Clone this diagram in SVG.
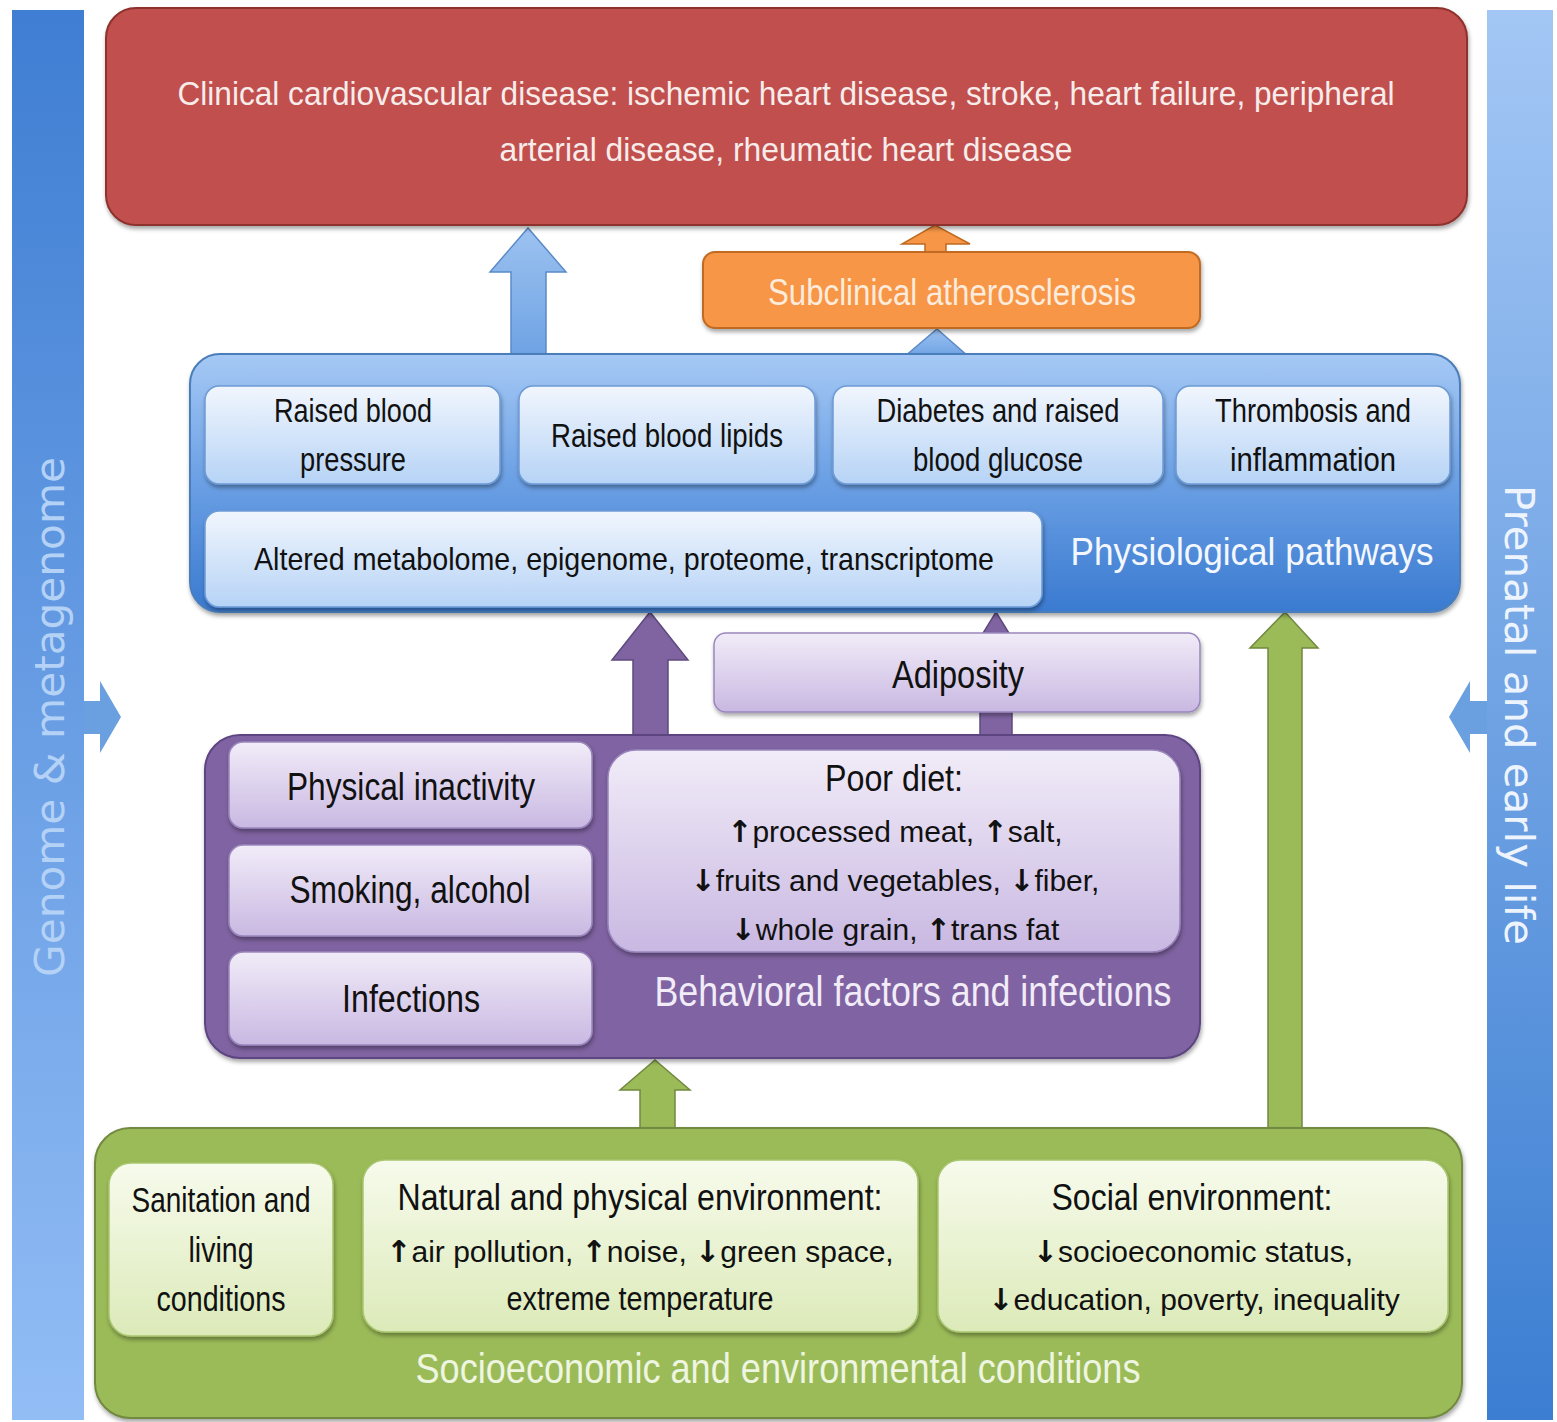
<svg xmlns="http://www.w3.org/2000/svg" width="1557" height="1422" viewBox="0 0 1557 1422">
<defs>
<linearGradient id="gLeft" x1="0" y1="0" x2="0" y2="1"><stop offset="0" stop-color="#3f7ed3"/><stop offset="1" stop-color="#92bdf5"/></linearGradient>
<linearGradient id="gRight" x1="0" y1="0" x2="0" y2="1"><stop offset="0" stop-color="#a3c7f5"/><stop offset="1" stop-color="#3c7ed2"/></linearGradient>
<linearGradient id="gPhys" x1="0" y1="0" x2="0" y2="1"><stop offset="0" stop-color="#a6c9f5"/><stop offset="0.45" stop-color="#6fa3e6"/><stop offset="1" stop-color="#3a7ad0"/></linearGradient>
<linearGradient id="gBlueSub" x1="0" y1="0" x2="0" y2="1"><stop offset="0" stop-color="#f1f6fd"/><stop offset="1" stop-color="#b6d3f6"/></linearGradient>
<linearGradient id="gPurSub" x1="0" y1="0" x2="0" y2="1"><stop offset="0" stop-color="#f1ecf8"/><stop offset="1" stop-color="#c9b8e2"/></linearGradient>
<linearGradient id="gGrnSub" x1="0" y1="0" x2="0" y2="1"><stop offset="0" stop-color="#f7fbec"/><stop offset="1" stop-color="#dceab9"/></linearGradient>
<linearGradient id="gBlueArrow" x1="0" y1="0" x2="0" y2="1"><stop offset="0" stop-color="#9cc2f0"/><stop offset="1" stop-color="#6ea2e4"/></linearGradient>
<filter id="sh" x="-10%" y="-10%" width="120%" height="130%"><feDropShadow dx="1" dy="3" stdDeviation="2" flood-color="#000" flood-opacity="0.35"/></filter>
<style>
.t{font-family:"Liberation Sans",Arial,sans-serif;text-anchor:middle;fill:#111;}
.t.w{fill:#f7ecea;}
.t.wo{fill:#fdebdc;}
.t.wb{fill:#f4f8fe;}
.t.wp{fill:#f1ecf8;}
.t.wg{fill:#eef5e0;}
.ar{font-family:"DejaVu Sans",sans-serif;font-weight:bold;}
.side{font-family:"DejaVu Sans",Verdana,sans-serif;text-anchor:middle;font-size:40px;}
.bsub{fill:url(#gBlueSub);stroke:#6d9bd6;stroke-width:1.5;filter:url(#sh);}
.psub{fill:url(#gPurSub);stroke:#9a86bd;stroke-width:1.5;filter:url(#sh);}
.gsub{fill:url(#gGrnSub);stroke:#a9c66f;stroke-width:1.5;filter:url(#sh);}
.blueArrow{fill:url(#gBlueArrow);stroke:#5b8bc7;stroke-width:1.5;}
.purArrow{fill:#8064a2;stroke:#5d4a7e;stroke-width:1.5;}
.grnArrow{fill:#9bbb59;stroke:#71893f;stroke-width:1.5;}
.sideArrow{fill:#6a9fe0;}
</style>
</defs>
<rect width="1557" height="1422" fill="#ffffff"/>

<g id="sidebar-left">
<rect x="12" y="10" width="72" height="1410" fill="url(#gLeft)"/>
<polygon class="sideArrow" points="84,701 100,701 100,681 121,717 100,753 100,734 84,734"/>
<text class="side" fill="#b4d1f6" transform="translate(64,717) rotate(-90)" textLength="520" lengthAdjust="spacingAndGlyphs">Genome &amp; metagenome</text>
</g>

<g id="sidebar-right">
<rect x="1487" y="10" width="66" height="1410" fill="url(#gRight)"/>
<polygon class="sideArrow" points="1487,701 1470,701 1470,681 1449,717 1470,753 1470,734 1487,734"/>
<text class="side" fill="#eef4fd" transform="translate(1505,715) rotate(90)" textLength="460" lengthAdjust="spacingAndGlyphs">Prenatal and early life</text>
</g>

<g id="connectors">
<polygon class="blueArrow" points="511,357 511,272 490,272 528,228 566,272 546,272 546,357"/>
<polygon fill="#f79646" stroke="#c06a20" stroke-width="1.5" points="925,254 925,244 902,244 935,225 970,244 946,244 946,254"/>
<polygon class="blueArrow" points="904,357 937,329 969,357"/>
<polygon class="purArrow" points="633,738 633,660 612,660 650,612 688,660 668,660 668,738"/>
<polygon class="purArrow" points="980,738 980,648 974,648 996,612 1018,648 1012,648 1012,738"/>
<polygon class="grnArrow" points="640,1131 640,1090 620,1090 655,1060 690,1090 675,1090 675,1131"/>
<polygon class="grnArrow" points="1268,1131 1268,648 1250,648 1285,612 1318,648 1302,648 1302,1131"/>
</g>

<g id="clinical-cvd">
<rect x="106" y="8" width="1361" height="217" rx="30" fill="#c0504d" stroke="#8e302d" stroke-width="2" filter="url(#sh)"/>
<text class="t w" x="786" y="105" font-size="34" textLength="1217" lengthAdjust="spacingAndGlyphs">Clinical cardiovascular disease: ischemic heart disease, stroke, heart failure, peripheral</text>
<text class="t w" x="786" y="161" font-size="34" textLength="573" lengthAdjust="spacingAndGlyphs">arterial disease, rheumatic heart disease</text>
</g>

<g id="subclinical">
<rect x="703" y="252" width="497" height="76" rx="12" fill="#f79646" stroke="#c06a20" stroke-width="2" filter="url(#sh)"/>
<text class="t wo" x="952" y="305" font-size="37" textLength="368" lengthAdjust="spacingAndGlyphs">Subclinical atherosclerosis</text>
</g>

<g id="physiological">
<rect x="190" y="354" width="1270" height="258" rx="30" fill="url(#gPhys)" stroke="#4a7ebb" stroke-width="2" filter="url(#sh)"/>
<text class="t wb" x="1252" y="565" font-size="39" textLength="363" lengthAdjust="spacingAndGlyphs">Physiological pathways</text>
</g>
<g id="raised-bp">
<rect class="bsub" x="205" y="386" width="295" height="98" rx="14"/>
<text class="t" x="353" y="422" font-size="34" textLength="158" lengthAdjust="spacingAndGlyphs">Raised blood</text>
<text class="t" x="353" y="471" font-size="34" textLength="106" lengthAdjust="spacingAndGlyphs">pressure</text>
</g>
<g id="raised-lipids">
<rect class="bsub" x="519" y="386" width="296" height="98" rx="14"/>
<text class="t" x="667" y="447" font-size="34" textLength="232" lengthAdjust="spacingAndGlyphs">Raised blood lipids</text>
</g>
<g id="diabetes">
<rect class="bsub" x="833" y="386" width="330" height="98" rx="14"/>
<text class="t" x="998" y="422" font-size="34" textLength="243" lengthAdjust="spacingAndGlyphs">Diabetes and raised</text>
<text class="t" x="998" y="471" font-size="34" textLength="170" lengthAdjust="spacingAndGlyphs">blood glucose</text>
</g>
<g id="thrombosis">
<rect class="bsub" x="1176" y="386" width="274" height="98" rx="14"/>
<text class="t" x="1313" y="422" font-size="34" textLength="196" lengthAdjust="spacingAndGlyphs">Thrombosis and</text>
<text class="t" x="1313" y="471" font-size="34" textLength="166" lengthAdjust="spacingAndGlyphs">inflammation</text>
</g>
<g id="omics">
<rect class="bsub" x="205" y="511" width="837" height="96" rx="14"/>
<text class="t" x="624" y="570" font-size="32" textLength="740" lengthAdjust="spacingAndGlyphs">Altered metabolome, epigenome, proteome, transcriptome</text>
</g>

<g id="adiposity">
<rect class="psub" x="714" y="633" width="486" height="79" rx="12"/>
<text class="t" x="958" y="688" font-size="38" textLength="132" lengthAdjust="spacingAndGlyphs">Adiposity</text>
</g>

<g id="behavioral">
<rect x="205" y="735" width="995" height="323" rx="35" fill="#8064a2" stroke="#5b4580" stroke-width="2" filter="url(#sh)"/>
<text class="t wp" x="913" y="1006" font-size="42" textLength="517" lengthAdjust="spacingAndGlyphs">Behavioral factors and infections</text>
</g>
<g id="physical-inactivity">
<rect class="psub" x="229" y="742" width="363" height="86" rx="14"/>
<text class="t" x="411" y="800" font-size="38" textLength="248" lengthAdjust="spacingAndGlyphs">Physical inactivity</text>
</g>
<g id="smoking">
<rect class="psub" x="229" y="845" width="363" height="91" rx="14"/>
<text class="t" x="410" y="903" font-size="38" textLength="241" lengthAdjust="spacingAndGlyphs">Smoking, alcohol</text>
</g>
<g id="infections">
<rect class="psub" x="229" y="952" width="363" height="93" rx="14"/>
<text class="t" x="411" y="1012" font-size="38" textLength="138" lengthAdjust="spacingAndGlyphs">Infections</text>
</g>
<g id="poor-diet">
<rect class="psub" x="608" y="750" width="572" height="202" rx="28"/>
<text class="t" x="894" y="791" font-size="36" textLength="138" lengthAdjust="spacingAndGlyphs">Poor diet:</text>
<text class="t" x="895" y="842" font-size="30"><tspan class="ar">↑</tspan>processed meat, <tspan class="ar">↑</tspan>salt,</text>
<text class="t" x="895" y="891" font-size="30"><tspan class="ar">↓</tspan>fruits and vegetables, <tspan class="ar">↓</tspan>fiber,</text>
<text class="t" x="895" y="940" font-size="30"><tspan class="ar">↓</tspan>whole grain, <tspan class="ar">↑</tspan>trans fat</text>
</g>

<g id="socioeconomic">
<rect x="95" y="1128" width="1367" height="290" rx="35" fill="#9bbb59" stroke="#71893f" stroke-width="2" filter="url(#sh)"/>
<text class="t wg" x="778" y="1383" font-size="42" textLength="725" lengthAdjust="spacingAndGlyphs">Socioeconomic and environmental conditions</text>
</g>
<g id="sanitation">
<rect class="gsub" x="109" y="1163" width="224" height="173" rx="22"/>
<text class="t" x="221" y="1212" font-size="35" textLength="179" lengthAdjust="spacingAndGlyphs">Sanitation and</text>
<text class="t" x="221" y="1262" font-size="35" textLength="65" lengthAdjust="spacingAndGlyphs">living</text>
<text class="t" x="221" y="1311" font-size="35" textLength="129" lengthAdjust="spacingAndGlyphs">conditions</text>
</g>
<g id="natural-env">
<rect class="gsub" x="363" y="1160" width="555" height="172" rx="22"/>
<text class="t" x="640" y="1210" font-size="37" textLength="485" lengthAdjust="spacingAndGlyphs">Natural and physical environment:</text>
<text class="t" x="640" y="1262" font-size="30"><tspan class="ar">↑</tspan>air pollution, <tspan class="ar">↑</tspan>noise, <tspan class="ar">↓</tspan>green space,</text>
<text class="t" x="640" y="1310" font-size="33" textLength="267" lengthAdjust="spacingAndGlyphs">extreme temperature</text>
</g>
<g id="social-env">
<rect class="gsub" x="938" y="1160" width="510" height="172" rx="22"/>
<text class="t" x="1192" y="1210" font-size="37" textLength="281" lengthAdjust="spacingAndGlyphs">Social environment:</text>
<text class="t" x="1193" y="1262" font-size="30"><tspan class="ar">↓</tspan>socioeconomic status,</text>
<text class="t" x="1194" y="1310" font-size="30"><tspan class="ar">↓</tspan>education, poverty, inequality</text>
</g>
</svg>
